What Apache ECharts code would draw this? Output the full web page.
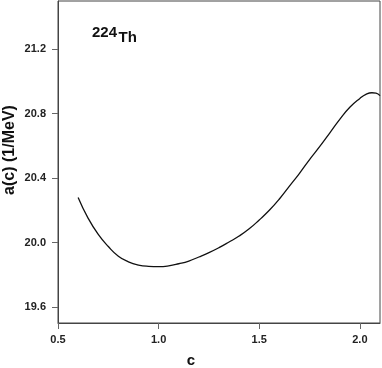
<!DOCTYPE html>
<html>
<head>
<meta charset="utf-8">
<script src="https://cdn.jsdelivr.net/npm/echarts@6/dist/echarts.min.js"></script>
<style>
html,body{margin:0;padding:0;background:#fff;}
#chart{width:382px;height:368px;}
</style>
</head>
<body>
<div id="chart"></div>
<script>
const cValues = [0.6,0.65,0.7,0.75,0.8,0.85,0.9,0.95,1.0,1.05,1.1,1.15,1.2,1.25,1.3,1.35,1.4,1.45,1.5,1.55,1.6,1.65,1.7,1.75,1.8,1.85,1.9,1.95,2.0,2.03,2.06,2.08,2.1];
const aValues = [20.28,20.15,20.05,19.975,19.915,19.88,19.86,19.852,19.85,19.855,19.868,19.885,19.91,19.937,19.968,20.003,20.04,20.085,20.14,20.2,20.27,20.35,20.43,20.515,20.595,20.68,20.765,20.84,20.895,20.92,20.93,20.928,20.912];
const xTicks = [0.5,1.0,1.5,2.0];
const yTicks = [19.6,20.0,20.4,20.8,21.2];
const xTitle = 'c';
const yTitle = 'a(c) (1/MeV)';
const massNumber = '224';
const element = 'Th';

const chart = echarts.init(document.getElementById('chart'), null, {renderer:'canvas'});
const font = '"Liberation Sans", Arial, sans-serif';
chart.setOption({
  animation:false,
  backgroundColor:'#fff',
  grid:{left:58,right:2,top:1,bottom:45,show:true,borderColor:'#444',borderWidth:1},
  xAxis:{
    type:'value',min:0.5,max:2.1,
    axisLine:{show:true,lineStyle:{color:'#444',width:1}},
    axisTick:{show:true,customValues:xTicks,length:6,lineStyle:{color:'#666'}},
    axisLabel:{customValues:xTicks,margin:11,color:'#222',fontFamily:font,fontWeight:'bold',fontSize:11,
      formatter:v=>v.toFixed(1)},
    splitLine:{show:false}
  },
  yAxis:{
    type:'value',min:19.5,max:21.5,
    axisLine:{show:true,lineStyle:{color:'#444',width:1}},
    axisTick:{show:true,customValues:yTicks,length:6,lineStyle:{color:'#666'}},
    axisLabel:{customValues:yTicks,margin:12,color:'#222',fontFamily:font,fontWeight:'bold',fontSize:11,
      formatter:v=>v.toFixed(1)},
    splitLine:{show:false}
  },
  series:[{
    type:'line',smooth:true,showSymbol:false,
    data:cValues.map((c,i)=>[c,aValues[i]]),
    lineStyle:{color:'#111',width:1.3}
  }],
  graphic:[
    {type:'text',x:10,y:150,rotation:Math.PI/2,style:{text:yTitle,font:'bold 16px '+font,fill:'#111',align:'center',verticalAlign:'middle'}},
    {type:'text',x:191,y:361,style:{text:xTitle,font:'bold 15px '+font,fill:'#111',align:'center',verticalAlign:'middle'}},
    {type:'text',x:92,y:33,style:{text:massNumber,font:'bold 15px '+font,fill:'#111',align:'left',verticalAlign:'middle'}},
    {type:'text',x:118.5,y:38,style:{text:element,font:'bold 15px '+font,fill:'#111',align:'left',verticalAlign:'middle'}}
  ]
});
</script>
</body>
</html>
